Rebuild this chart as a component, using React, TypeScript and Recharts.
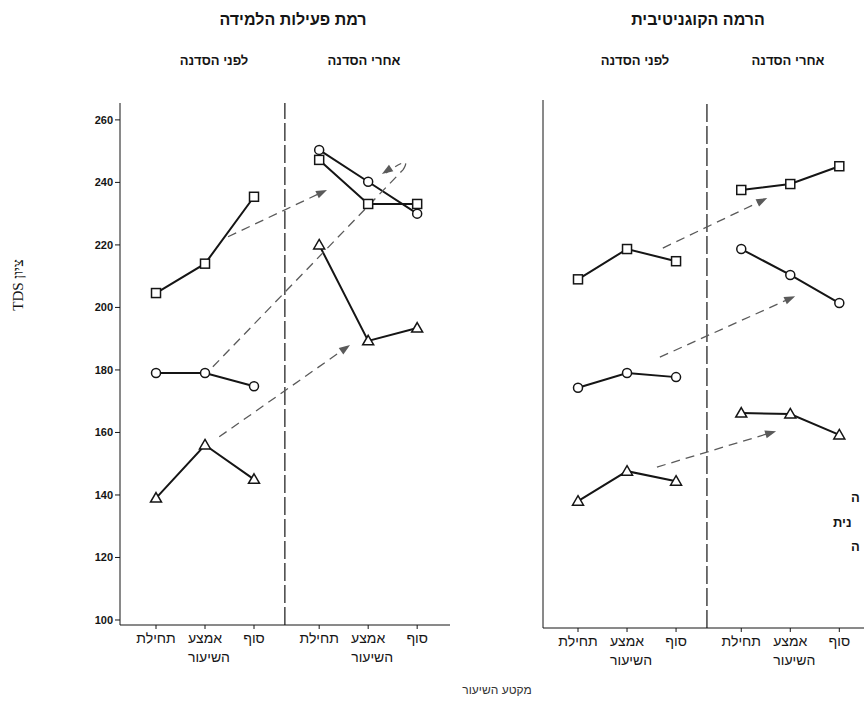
import { ComposedChart, Line, XAxis, YAxis, ReferenceLine } from 'recharts';

// x axis: three lesson phases, before and after the workshop
const PHASES = ['תחילת', 'אמצע', 'סוף'];
const PHASE_SUB = 'השיעור';
const STAGE_POS = [0, 1, 2, 3.33, 4.33, 5.33];
const DIVIDER_POS = 2.63;
const Y_TICKS = [100, 120, 140, 160, 180, 200, 220, 240, 260];

// רמת פעילות הלמידה
const actSquareBefore = [204.6, 214, 235.4];
const actSquareAfter = [247.2, 233.1, 233.1];
const actCircleBefore = [179, 179, 174.8];
const actCircleAfter = [250.4, 240.2, 230];
const actTriangleBefore = [139, 156, 145];
const actTriangleAfter = [220, 189.3, 193.4];

// הרמה הקוגניטיבית
const cogSquareBefore = [210, 219.7, 215.8];
const cogSquareAfter = [238.6, 240.5, 246.2];
const cogCircleBefore = [175.3, 180, 178.7];
const cogCircleAfter = [219.7, 211.4, 202.4];
const cogTriangleBefore = [139, 148.6, 145.4];
const cogTriangleAfter = [167.2, 166.9, 160.2];

// dashed arrows [x1, y1, x2, y2] in chart units
const actArrows = [
  [1.47, 222.6, 3.49, 237.6],
  [1.29, 158.6, 3.96, 188],
];
const actLongArrow = [1.16, 181, 5.04, 244];
const actHookTip = [4.61, 242.7];
const cogArrows = [
  [1.73, 220, 3.86, 236],
  [1.67, 185.1, 4.43, 204.6],
  [1.61, 149.9, 4.04, 161.4],
];

const FONT = '"Liberation Sans", Arial, sans-serif';
const INK = '#151515';
const ARROW = '#5a5a5a';

const pts = (xs: number[], vs: number[]) => vs.map((v, i) => ({ x: xs[i], v }));
const before = STAGE_POS.slice(0, 3);
const after = STAGE_POS.slice(3);

function Marker(props: any) {
  const { cx, cy, kind } = props;
  if (cx == null || cy == null) return null;
  const common = { fill: '#fff', stroke: INK, strokeWidth: 1.5 };
  if (kind === 'square') return <rect x={cx - 4.5} y={cy - 4.5} width={9} height={9} {...common} />;
  if (kind === 'circle') return <circle cx={cx} cy={cy} r={4.5} {...common} />;
  return <polygon points={`${cx},${cy - 5.5} ${cx + 5.5},${cy + 4} ${cx - 5.5},${cy + 4}`} {...common} />;
}

const dotFor = (kind: string) => (p: any) => <Marker key={`${kind}-${p.index}`} cx={p.cx} cy={p.cy} kind={kind} />;

function head(x: number, y: number, dx: number, dy: number) {
  const len = Math.hypot(dx, dy) || 1;
  const ux = dx / len, uy = dy / len;
  const L = 11, W = 4;
  const bx = x - ux * L, by = y - uy * L;
  return `${x},${y} ${bx - uy * W},${by + ux * W} ${bx + uy * W},${by - ux * W}`;
}

const arrowShape = (p: any) => {
  const { x1, y1, x2, y2 } = p;
  const dx = x2 - x1, dy = y2 - y1;
  const len = Math.hypot(dx, dy);
  const ex = x2 - (dx / len) * 8, ey = y2 - (dy / len) * 8;
  return (
    <g>
      <line x1={x1} y1={y1} x2={ex} y2={ey} stroke={ARROW} strokeWidth={1.3} strokeDasharray="9 6" />
      <polygon points={head(x2, y2, dx, dy)} fill={ARROW} />
    </g>
  );
};

const plainDash = (p: any) => (
  <line x1={p.x1} y1={p.y1} x2={p.x2} y2={p.y2} stroke={ARROW} strokeWidth={1.3} strokeDasharray="9 6" />
);

const hookShape = (p: any) => {
  const { x1, y1, x2, y2 } = p;
  const cx = x1 + 10, cy = y1 - 16;
  return (
    <g>
      <path d={`M${x1},${y1} Q${cx},${cy} ${x2 + 4},${y2 - 1}`} fill="none" stroke={ARROW} strokeWidth={1.3} strokeDasharray="7 5" />
      <polygon points={head(x2, y2, x2 - cx, y2 - cy)} fill={ARROW} />
    </g>
  );
};

function PhaseTick(props: any) {
  const { x, y, payload } = props;
  const idx = STAGE_POS.findIndex((s) => Math.abs(s - payload.value) < 0.01);
  const k = idx % 3;
  return (
    <g>
      <text x={x} y={y + 12} textAnchor="middle" fontSize={14} fill={INK} fontFamily={FONT}>
        {PHASES[k]}
      </text>
      {k === 1 && (
        <text x={x + 4} y={y + 31} textAnchor="middle" fontSize={14} fill={INK} fontFamily={FONT}>
          {PHASE_SUB}
        </text>
      )}
    </g>
  );
}

function Series({ sq, sqA, ci, ciA, tr, trA }: any) {
  const lineProps = { dataKey: 'v', stroke: INK, strokeWidth: 2, isAnimationActive: false, activeDot: false } as any;
  return [
    <Line key="sb" data={pts(before, sq)} dot={dotFor('square')} {...lineProps} />,
    <Line key="sa" data={pts(after, sqA)} dot={dotFor('square')} {...lineProps} />,
    <Line key="cb" data={pts(before, ci)} dot={dotFor('circle')} {...lineProps} />,
    <Line key="ca" data={pts(after, ciA)} dot={dotFor('circle')} {...lineProps} />,
    <Line key="tb" data={pts(before, tr)} dot={dotFor('triangle')} {...lineProps} />,
    <Line key="ta" data={pts(after, trA)} dot={dotFor('triangle')} {...lineProps} />,
  ];
}

const Label = ({ x, y, children, size = 13, bold = true, anchor = 'center', color = INK, family = FONT }: any) => (
  <div
    dir="rtl"
    style={{
      position: 'absolute',
      left: x,
      top: y,
      transform: anchor === 'center' ? 'translate(-50%, -50%)' : 'translate(0, -50%)',
      fontSize: size,
      fontWeight: bold ? 700 : 400,
      color,
      fontFamily: family,
      whiteSpace: 'nowrap',
    }}
  >
    {children}
  </div>
);

export default function App() {
  return (
    <div style={{ position: 'absolute', left: 0, top: 0, width: 864, height: 701, overflow: 'hidden', background: '#fff' }}>
      <div style={{ position: 'absolute', left: 0, top: 0 }}>
        <ComposedChart width={460} height={701} margin={{ top: 103, right: 10, bottom: 26, left: 0 }}>
          <XAxis
            dataKey="x"
            type="number"
            domain={[-0.735, 6.0]}
            allowDataOverflow
            ticks={STAGE_POS}
            tick={<PhaseTick />}
            tickSize={4}
            height={50}
            stroke={INK}
            interval={0}
          />
          <YAxis
            type="number"
            domain={[98.4, 265.4]}
            allowDataOverflow
            ticks={Y_TICKS}
            width={120}
            tickSize={5}
            stroke={INK}
            tick={{ fontSize: 11, fontWeight: 700, fill: INK, fontFamily: FONT }}
          />
          <ReferenceLine x={DIVIDER_POS} stroke={INK} strokeWidth={1.2} strokeDasharray="18 4" />
          {Series({
            sq: actSquareBefore, sqA: actSquareAfter,
            ci: actCircleBefore, ciA: actCircleAfter,
            tr: actTriangleBefore, trA: actTriangleAfter,
          })}
          {actArrows.map((a, i) => (
            <ReferenceLine key={`aa${i}`} segment={[{ x: a[0], y: a[1] }, { x: a[2], y: a[3] }]} shape={arrowShape} />
          ))}
          <ReferenceLine
            segment={[{ x: actLongArrow[0], y: actLongArrow[1] }, { x: actLongArrow[2], y: actLongArrow[3] }]}
            shape={plainDash}
          />
          <ReferenceLine
            segment={[{ x: actLongArrow[2], y: actLongArrow[3] }, { x: actHookTip[0], y: actHookTip[1] }]}
            shape={hookShape}
          />
        </ComposedChart>
      </div>

      <div style={{ position: 'absolute', left: 460, top: 0 }}>
        <ComposedChart width={430} height={701} margin={{ top: 100, right: 10, bottom: 23, left: 0 }}>
          <XAxis
            dataKey="x"
            type="number"
            domain={[-0.714, 6.16]}
            allowDataOverflow
            ticks={STAGE_POS}
            tick={<PhaseTick />}
            tickSize={4}
            height={50}
            stroke={INK}
            interval={0}
          />
          <YAxis
            type="number"
            domain={[98.4, 267.4]}
            allowDataOverflow
            width={83}
            tick={false}
            tickLine={false}
            stroke={INK}
          />
          <ReferenceLine x={DIVIDER_POS} stroke={INK} strokeWidth={1.2} strokeDasharray="18 4" />
          {Series({
            sq: cogSquareBefore, sqA: cogSquareAfter,
            ci: cogCircleBefore, ciA: cogCircleAfter,
            tr: cogTriangleBefore, trA: cogTriangleAfter,
          })}
          {cogArrows.map((a, i) => (
            <ReferenceLine key={`ca${i}`} segment={[{ x: a[0], y: a[1] }, { x: a[2], y: a[3] }]} shape={arrowShape} />
          ))}
        </ComposedChart>
      </div>

      <Label x={293} y={20} size={16}>רמת פעילות הלמידה</Label>
      <Label x={214} y={60}>לפני הסדנה</Label>
      <Label x={364} y={60}>אחרי הסדנה</Label>
      <Label x={698} y={20} size={16}>הרמה הקוגניטיבית</Label>
      <Label x={635} y={60}>לפני הסדנה</Label>
      <Label x={788} y={60}>אחרי הסדנה</Label>

      <div
        dir="rtl"
        style={{
          position: 'absolute',
          left: 18,
          top: 285,
          transform: 'translate(-50%, -50%) rotate(-90deg)',
          fontSize: 15,
          fontFamily: '"Liberation Serif", "Times New Roman", serif',
          color: INK,
          whiteSpace: 'nowrap',
        }}
      >
        ציון TDS
      </div>
      <Label x={497} y={690} size={12} bold={false} color="#333">מקטע השיעור</Label>

      <Label x={851} y={497} anchor="left">ה</Label>
      <Label x={833} y={522} anchor="left">נית</Label>
      <Label x={851} y={546} anchor="left">ה</Label>
    </div>
  );
}
